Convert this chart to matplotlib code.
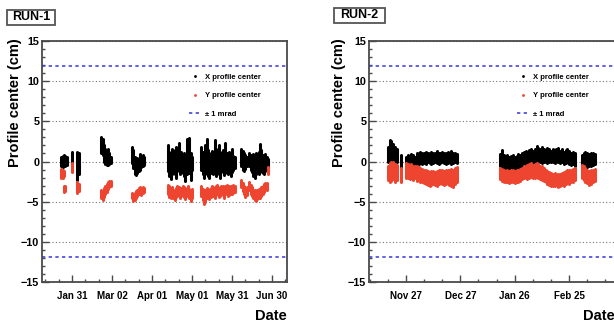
import numpy as np
import matplotlib
matplotlib.use('Agg')
import matplotlib.pyplot as plt
import matplotlib.dates as mdates
import matplotlib.ticker as mticker
from matplotlib.lines import Line2D
from matplotlib.patches import Rectangle

plt.rcParams['font.family'] = ['Liberation Sans', 'DejaVu Sans']
plt.rcParams['font.weight'] = 'bold'
plt.rcParams['axes.labelweight'] = 'bold'

## RUN-1 : day offsets from 2010-01-31, band of values (low, high) per day
run1_t0 = '2010-01-31'
run1_x_day = [-8, -7, -6, -5, -4, 0, 4, 5,
              22, 23, 24, 25, 26, 27, 28, 29,
              45, 46, 47, 48, 49, 50, 51, 52, 53, 54,
              72, 73, 74, 75, 76, 77, 78, 79, 80, 81, 82, 83, 84, 85, 86, 87, 88, 89, 90,
              97, 98, 99, 100, 101, 102, 103, 104, 105, 106, 107, 108, 109, 110, 111, 112,
              113, 114, 115, 116, 117, 118, 119, 120, 121, 122,
              127, 128, 129, 130, 131,
              133, 134, 135, 136, 137, 138, 139, 140, 141, 142, 143, 144, 145, 146, 147]
run1_x_lo = [-0.6, -0.7, -0.5, -0.6, -0.4, -0.2, -2.3, -1.5,
             1.0, 0.8, 0.0, -0.3, -0.4, -0.4, -0.3, -0.2,
             -0.2, -0.8, -1.5, -1.7, -1.4, -1.2, -1.0, -0.7, -0.6, -0.4,
             -1.2, -1.8, -2.2, -1.5, -1.0, -1.6, -2.0, -1.2, -1.0, -1.5, -0.9, -1.4, -1.8, -2.4, -1.6, -1.0, -1.4, -2.3, -1.0,
             -1.0, -1.6, -2.0, -1.5, -1.2, -1.8, -2.1, -1.4, -1.0, -1.6, -1.3, -1.8, -1.2, -1.5, -2.0, -1.3,
             -1.1, -1.7, -1.4, -1.0, -1.5, -1.2, -1.8, -1.3, -1.0, -0.8,
             -0.5, -1.0, -1.2, -0.9, -0.6,
             -0.5, -1.0, -1.3, -1.8, -2.1, -1.6, -1.2, -1.5, -1.3, -1.0, -1.4, -1.6, -1.2, -0.9, -0.8]
run1_x_hi = [0.5, 0.7, 0.8, 0.7, 0.6, 1.2, 1.2, 1.0,
             3.1, 2.8, 2.0, 1.5, 1.2, 1.6, 1.0, 0.6,
             1.8, 1.4, 0.6, 0.2, 0.4, 0.3, 0.9, 0.5, 0.8, 0.6,
             2.0, 1.2, 1.0, 1.5, 0.8, 1.4, 1.8, 0.9, 2.3, 1.0, 1.2, 0.8, 1.1, 0.7, 2.8, 1.5, 2.9, 1.0, 0.6,
             1.8, 1.2, 1.0, 2.0, 2.85, 1.4, 1.0, 0.9, 1.3, 1.0, 2.7, 1.5, 1.1, 2.0, 1.2, 0.9,
             1.4, 1.0, 2.3, 1.1, 0.8, 1.2, 0.9, 1.5, 0.7, 0.5,
             1.5, 1.3, 1.0, 0.8, 0.5,
             1.0, 0.8, 0.6, 0.9, 0.5, 1.0, 0.7, 1.2, 2.2, 1.4, 0.8, 0.6, 0.9, 0.5, 0.3]

run1_y_day = [-8, -7, -6, -6, -5, 0, 4, 5,
              22, 23, 24, 25, 26, 27, 28, 29,
              45, 46, 47, 48, 49, 50, 51, 52, 53, 54,
              72, 73, 74, 75, 76, 77, 78, 79, 80, 81, 82, 83, 84, 85, 86, 87, 88, 89, 90,
              97, 98, 99, 100, 101, 102, 103, 104, 105, 106, 107, 108, 109, 110, 111, 112,
              113, 114, 115, 116, 117, 118, 119, 120, 121, 122,
              127, 128, 129, 130, 131,
              133, 134, 135, 136, 137, 138, 139, 140, 141, 142, 143, 144, 145, 146, 147]
run1_y_lo = [-2.1, -2.0, -1.8, -3.75, -3.7, -1.3, -3.9, -3.7,
             -4.6, -4.8, -4.4, -4.0, -3.8, -3.4, -3.2, -3.0,
             -4.6, -4.9, -4.8, -4.5, -4.3, -4.1, -4.0, -4.2, -3.9, -3.8,
             -4.0, -4.4, -4.6, -4.2, -4.5, -4.8, -4.4, -4.0, -4.3, -4.6, -4.3, -4.0, -4.4, -4.7, -4.3, -4.1, -4.6, -4.9, -4.5,
             -4.3, -4.8, -5.3, -5.0, -4.6, -4.5, -4.7, -4.4, -4.1, -4.3, -4.6, -4.2, -4.0, -4.4, -4.3, -4.0,
             -4.2, -4.5, -4.1, -4.0, -4.3, -4.2, -4.0, -4.1, -3.9, -3.8,
             -3.2, -3.7, -4.1, -4.4, -4.2,
             -3.6, -4.0, -4.3, -4.6, -4.8, -4.9, -4.7, -4.5, -4.6, -4.3, -4.0, -3.8, -3.6, -3.5, -1.5]
run1_y_hi = [-0.9, -1.0, -1.2, -3.0, -3.1, -0.2, -2.6, -2.8,
             -3.6, -3.7, -3.3, -3.0, -2.8, -2.5, -2.4, -2.4,
             -3.9, -4.1, -3.9, -3.7, -3.5, -3.3, -3.2, -3.4, -3.2, -3.3,
             -2.9, -3.1, -3.4, -3.2, -3.5, -3.6, -3.3, -3.0, -3.2, -3.5, -3.3, -3.1, -3.2, -3.5, -3.3, -3.0, -3.4, -3.6, -3.4,
             -3.0, -3.4, -3.6, -3.5, -3.3, -3.4, -3.6, -3.3, -3.0, -3.2, -3.5, -3.1, -2.9, -3.3, -3.2, -3.0,
             -3.1, -3.3, -3.0, -2.9, -3.2, -3.1, -3.0, -3.0, -2.9, -3.0,
             -2.3, -2.7, -3.0, -3.3, -3.2,
             -2.6, -2.9, -3.2, -3.5, -3.6, -3.7, -3.6, -3.4, -3.5, -3.2, -3.0, -2.8, -2.7, -2.7, -0.7]

## RUN-2 : day offsets from 2010-11-27
run2_t0 = '2010-11-27'
run2_x_day = [-10, -9, -8, -7, -6, -5, -3,
              0, 1, 2, 3, 4, 5, 6, 7, 8, 9, 10, 11, 12, 13, 14, 15, 16, 17, 18, 19, 20,
              21, 22, 23, 24, 25, 26, 27, 28,
              52, 53, 54, 55, 56, 57, 58, 59, 60, 61, 62, 63, 64, 65, 66, 67, 68, 69, 70, 71, 72,
              73, 74, 75, 76, 77, 78, 79, 80, 81, 82, 83, 84, 85, 86, 87, 88, 89, 90, 91, 92, 93,
              97, 98, 99, 100, 101, 102, 103, 104]
run2_x_lo = [0.0, 0.2, 0.1, 0.0, -0.1, 0.0, -0.8,
             -0.3, -0.4, -0.5, -0.4, -0.6, -1.1, -0.5, -0.3, -0.2, -0.3, -0.2, -0.3, -0.1, -0.2, -0.3, -0.2, -0.1, -0.2, -0.3, -0.2, -0.1,
             -0.2, -0.3, -0.2, -0.1, -0.3, -0.2, -0.1, -0.2,
             -0.6, -0.8, -0.9, -0.8, -1.0, -0.9, -0.8, -1.0, -0.9, -0.8, -1.0, -0.9, -0.7, -0.5, -0.4, -0.3, -0.4, -0.2, -0.3, -0.1, -0.2,
             0.0, -0.1, -0.2, -0.1, 0.0, -0.2, -0.1, 0.0, -0.1, -0.2, -0.1, 0.0, -0.2, -0.1, -0.3, -0.2, -0.1, -0.3, -0.4, -0.3, -0.5,
             -0.6, -0.8, -0.9, -0.7, -0.5, -0.6, -0.4, -0.3]
run2_x_hi = [1.8, 2.7, 2.5, 2.2, 1.8, 1.5, 0.8,
             0.6, 0.8, 0.7, 0.9, 0.8, 0.5, 1.0, 1.1, 1.2, 1.0, 1.1, 1.2, 1.0, 1.1, 1.2, 1.0, 1.1, 1.3, 1.1, 1.0, 1.2,
             1.1, 1.0, 1.2, 1.1, 1.3, 1.1, 1.0, 0.9,
             0.9, 1.4, 0.8, 0.7, 0.8, 0.6, 0.7, 0.8, 0.6, 0.7, 0.9, 0.8, 1.0, 1.2, 1.3, 1.2, 1.4, 1.5, 1.3, 1.6, 1.9,
             1.7, 1.5, 1.8, 1.6, 1.4, 1.7, 1.5, 1.3, 1.6, 1.4, 1.5, 1.7, 1.3, 1.5, 1.2, 1.4, 1.6, 1.3, 1.1, 1.2, 1.0,
             0.8, 1.0, 1.2, 1.1, 0.9, 1.0, 1.1, 0.9]

run2_y_day = run2_x_day
run2_y_lo = [-2.3, -2.5, -2.4, -2.2, -2.5, -2.3, -2.5,
             -2.0, -2.1, -2.2, -2.0, -2.3, -2.1, -2.4, -2.3, -2.5, -2.6, -2.7, -2.8, -2.9, -3.0, -2.9, -2.8, -2.9, -3.0, -2.8, -2.7, -2.8,
             -2.9, -2.8, -2.7, -2.9, -3.0, -3.2, -2.8, -2.6,
             -2.2, -2.4, -2.5, -2.6, -2.5, -2.7, -2.6, -2.5, -2.7, -2.6, -2.5, -2.4, -2.2, -2.1, -2.0, -2.2, -2.0, -1.9, -2.1, -2.0, -1.8,
             -2.0, -2.2, -2.3, -2.4, -2.6, -2.8, -2.9, -3.0, -3.1, -3.0, -2.9, -3.2, -3.1, -2.9, -3.0, -2.8, -2.7, -2.8, -2.6, -2.5, -2.3,
             -2.0, -2.3, -2.5, -2.7, -2.9, -2.8, -2.6, -2.4]
run2_y_hi = [-0.5, -0.2, 0.0, -0.1, -0.3, -0.4, -0.8,
             -0.2, -0.3, -0.4, -0.3, -0.5, -0.6, -0.6, -0.7, -0.8, -0.9, -1.0, -1.1, -1.2, -1.3, -1.2, -1.2, -1.3, -1.2, -1.1, -1.0, -1.1,
             -1.2, -1.0, -1.1, -1.0, -0.9, -1.0, -0.8, -0.7,
             -0.8, -0.9, -1.1, -1.2, -1.1, -1.2, -1.0, -1.1, -1.2, -1.1, -1.0, -0.9, -0.8, -0.6, -0.5, -0.4, -0.3, -0.2, -0.4, -0.3, -0.2,
             -0.3, -0.5, -0.6, -0.8, -1.0, -1.2, -1.3, -1.4, -1.5, -1.4, -1.5, -1.6, -1.5, -1.4, -1.3, -1.2, -1.1, -1.0, -1.1, -0.9, -0.8,
             -0.4, -0.6, -0.8, -1.0, -1.2, -1.1, -1.0, -0.9]

mrad_limit = 11.9   # +- 1 mrad in cm

x_color = 'black'
y_color = '#ee4530'
mrad_color = '#4646e0'
frame_color = '#4a4a4a'


def to_dates(t0, days):
    return np.datetime64(t0) + np.array(days).astype('timedelta64[D]')


def draw_run(ax, t0, xd, xlo, xhi, yd, ylo, yhi, xlim, major_days, minor_days):
    ax.vlines(to_dates(t0, xd), xlo, xhi, color=x_color, lw=2.2, capstyle='round')
    ax.vlines(to_dates(t0, yd), ylo, yhi, color=y_color, lw=2.2, capstyle='round')
    ax.axhline(mrad_limit, color=mrad_color, lw=1.2, ls=(0, (2, 2)))
    ax.axhline(-mrad_limit, color=mrad_color, lw=1.2, ls=(0, (2, 2)))

    t = mdates.date2num(np.datetime64(t0))
    ax.set_xlim(t + xlim[0], t + xlim[1])
    ax.set_ylim(-15, 15)
    ax.xaxis.set_major_locator(mticker.FixedLocator(t + np.array(major_days)))
    ax.xaxis.set_minor_locator(mticker.FixedLocator(t + np.array(minor_days)))
    ax.xaxis.set_major_formatter(mdates.DateFormatter('%b %d'))
    ax.yaxis.set_major_locator(mticker.MultipleLocator(5))
    ax.yaxis.set_minor_locator(mticker.MultipleLocator(1))
    ax.grid(axis='y', which='major', color='#777777', lw=0.8, ls=(0, (1, 2)))
    ax.set_axisbelow(True)

    ax.tick_params(which='both', direction='in', color=frame_color, width=1.0)
    ax.tick_params(which='major', length=4.8)
    ax.tick_params(which='minor', length=2.4)
    ax.tick_params(axis='x', labelsize=7, pad=6.5)
    ax.tick_params(axis='y', labelsize=7.8, pad=2)
    for sp in ax.spines.values():
        sp.set_color(frame_color)
        sp.set_linewidth(1.3)

    ax.set_ylabel('Profile center (cm)', fontsize=10.5, loc='top')
    ax.set_xlabel('Date', fontsize=10.5, loc='right')

    handles = [Line2D([], [], ls='none', marker='.', ms=2, color=x_color),
               Line2D([], [], ls='none', marker='.', ms=2, color=y_color),
               Line2D([], [], ls=(0, (2, 2)), lw=1.2, color=mrad_color)]
    ax.legend(handles, ['X profile center', 'Y profile center', '\u00b1 1 mrad'],
              loc='upper left', bbox_to_anchor=(0.6, 0.865), frameon=False,
              fontsize=5.5, handlelength=1.6, handletextpad=0.5,
              labelspacing=1.45, borderpad=0, borderaxespad=0)


fig = plt.figure(figsize=(6.14, 3.24), dpi=100)
ax1 = fig.add_axes([42 / 614, 42 / 324, 245 / 614, 241 / 324])
ax2 = fig.add_axes([369 / 614, 42 / 324, 246 / 614, 241 / 324])

draw_run(ax1, run1_t0, run1_x_day, run1_x_lo, run1_x_hi,
         run1_y_day, run1_y_lo, run1_y_hi, (-22.5, 161.3),
         np.arange(0, 151, 30), np.arange(-20, 161, 10))
draw_run(ax2, run2_t0, run2_x_day, run2_x_lo, run2_x_hi,
         run2_y_day, run2_y_lo, run2_y_hi, (-20.4, 115.3),
         np.arange(0, 91, 30), np.arange(-20, 116, 10))

ax1.yaxis.set_label_coords(-0.083, 1.012)
ax2.yaxis.set_label_coords(-0.092, 1.012)
ax1.xaxis.set_label_coords(1.0, -0.11)
ax2.xaxis.set_label_coords(1.0, -0.11)

## run boxes
for name, x0, y0, w in [('RUN-1', 7, 10, 48), ('RUN-2', 334, 8, 51)]:
    fig.add_artist(Rectangle((x0 / 614, 1 - (y0 + 15) / 324), w / 614, 15 / 324,
                             transform=fig.transFigure, fill=False,
                             edgecolor='#555555', lw=1.3))
    fig.text((x0 + w / 2) / 614, 1 - (y0 + 7.5) / 324, name, fontsize=9,
             ha='center', va='center')

fig.savefig('out.png', dpi=100)
